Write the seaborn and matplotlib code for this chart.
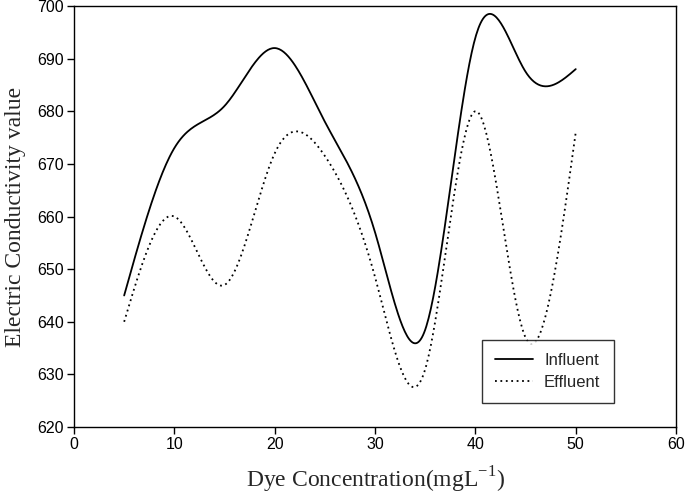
import numpy as np
import pandas as pd
import matplotlib
matplotlib.use("Agg")
import matplotlib.pyplot as plt
from matplotlib.lines import Line2D
import seaborn as sns

# Data
concentration = [5, 10, 15, 20, 25, 30, 35, 40, 45, 50]
influent = [645, 673, 681, 692, 678, 657, 638.5, 694, 687.5, 688]
effluent = [640, 660, 647, 672, 671.5, 648.5, 631, 680, 637, 676]
x_ticks = [0, 10, 20, 30, 40, 50, 60]
y_ticks = [620, 630, 640, 650, 660, 670, 680, 690, 700]


def natural_spline(x, y, n=400):
    x = np.asarray(x, float)
    y = np.asarray(y, float)
    k = len(x)
    h = np.diff(x)
    A = np.zeros((k, k))
    b = np.zeros(k)
    A[0, 0] = A[-1, -1] = 1
    for i in range(1, k - 1):
        A[i, i - 1] = h[i - 1]
        A[i, i] = 2 * (h[i - 1] + h[i])
        A[i, i + 1] = h[i]
        b[i] = 3 * ((y[i + 1] - y[i]) / h[i] - (y[i] - y[i - 1]) / h[i - 1])
    c = np.linalg.solve(A, b)
    xs = np.linspace(x[0], x[-1], n)
    idx = np.clip(np.searchsorted(x, xs) - 1, 0, k - 2)
    dx = xs - x[idx]
    hi = h[idx]
    bb = (y[idx + 1] - y[idx]) / hi - hi * (2 * c[idx] + c[idx + 1]) / 3
    dd = (c[idx + 1] - c[idx]) / (3 * hi)
    ys = y[idx] + bb * dx + c[idx] * dx ** 2 + dd * dx ** 3
    return xs, ys


sns.set_style("ticks")
plt.rcParams["font.family"] = ["Liberation Sans", "DejaVu Sans"]

rows = []
for name, vals in [("Influent", influent), ("Effluent", effluent)]:
    xs, ys = natural_spline(concentration, vals)
    rows.append(pd.DataFrame({"x": xs, "y": ys, "series": name}))
df = pd.concat(rows, ignore_index=True)

fig = plt.figure(figsize=(6.85, 4.96), dpi=100)
ax = fig.add_axes([0.108, 0.139, 0.879, 0.849])

sns.lineplot(data=df, x="x", y="y", hue="series", style="series",
             palette={"Influent": "black", "Effluent": "black"},
             dashes={"Influent": "", "Effluent": (1, 2)},
             linewidth=1.3, ax=ax, legend=False, sort=False)

ax.set_xlim(0, 60)
ax.set_ylim(620, 700)
ax.set_xticks(x_ticks)
ax.set_yticks(y_ticks)
ax.tick_params(direction="out", length=5, width=1, labelsize=11.5, colors="black", pad=2.5)
for s in ax.spines.values():
    s.set_visible(True)
    s.set_linewidth(1.0)
    s.set_color("black")

serif = ["Liberation Serif", "DejaVu Serif"]
ax.set_xlabel(r"Dye Concentration(mgL$^{\mathregular{-1}}$)", fontsize=17,
              family=serif, labelpad=9)
ax.set_ylabel("Electric Conductivity value", fontsize=17, family=serif, labelpad=8)

handles = [Line2D([], [], color="black", lw=1.3, ls="-"),
           Line2D([], [], color="black", lw=1.3, ls=(0, (1, 2)))]
leg = ax.legend(handles, ["Influent", "Effluent"], loc="lower left",
                bbox_to_anchor=(0.677, 0.057), borderaxespad=0, frameon=True,
                fancybox=False, edgecolor="black", fontsize=12, handlelength=2.3,
                handletextpad=0.65, borderpad=0.8, labelspacing=0.4)
leg.get_frame().set_linewidth(1.0)

fig.savefig("out.png", dpi=100)
